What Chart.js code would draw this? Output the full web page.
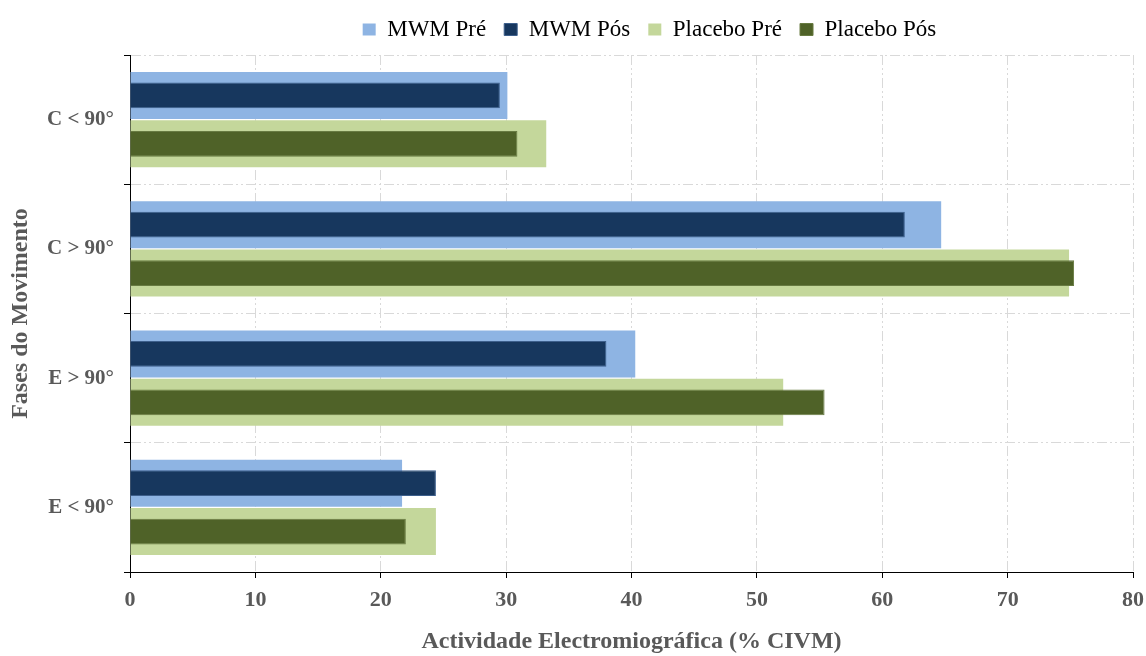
<!DOCTYPE html>
<html>
<head>
<meta charset="utf-8">
<script src="https://cdn.jsdelivr.net/npm/chart.js@4.4.0/dist/chart.umd.min.js"></script>
<style>
  html, body { margin: 0; padding: 0; background: #fff; }
</style>
</head>
<body>
<canvas id="grafico" width="1146" height="656"></canvas>
<script>
// fases do movimento (de cima para baixo)
const fases = ['C < 90°', 'C > 90°', 'E > 90°', 'E < 90°'];

// actividade electromiográfica (% CIVM)
const mwmPre = [30.1, 64.7, 40.3, 21.7];
const mwmPos = [29.5, 61.8, 38.0, 24.4];
const placeboPre = [33.2, 74.9, 52.1, 24.4];
const placeboPos = [30.9, 75.3, 55.4, 22.0];

const ticksX = [0, 10, 20, 30, 40, 50, 60, 70, 80];

const cinza = '#595959';
const grelha = '#d9d9d9';
const tracejado = [10, 3, 2, 3, 2, 3];

Chart.defaults.font.family = "'Liberation Serif', 'Times New Roman', serif";
Chart.defaults.color = cinza;

// a legenda do original fica um pouco à direita do centro da área
const deslocaLegenda = {
    id: 'deslocaLegenda',
    afterLayout(chart) {
        chart.legend.left += 18;
        chart.legend.right += 18;
    }
};

// Pré e Pós do mesmo grupo partilham a mesma faixa (stack), sobrepostas
new Chart(document.getElementById('grafico'), {
    type: 'bar',
    data: {
        labels: fases,
        datasets: [
            {
                label: 'MWM Pré',
                data: mwmPre,
                stack: 'mwm',
                backgroundColor: '#8EB4E3',
                order: 2,
                barPercentage: 0.97,
                categoryPercentage: 0.75
            },
            {
                label: 'MWM Pós',
                data: mwmPos,
                stack: 'mwm',
                backgroundColor: '#17375E',
                borderColor: '#3D5F8C',
                borderWidth: 1,
                order: 1,
                barPercentage: 0.53,
                categoryPercentage: 0.75
            },
            {
                label: 'Placebo Pré',
                data: placeboPre,
                stack: 'placebo',
                backgroundColor: '#C4D79B',
                order: 2,
                barPercentage: 0.97,
                categoryPercentage: 0.75
            },
            {
                label: 'Placebo Pós',
                data: placeboPos,
                stack: 'placebo',
                backgroundColor: '#4F6228',
                borderColor: '#687B42',
                borderWidth: 1,
                order: 1,
                barPercentage: 0.53,
                categoryPercentage: 0.75
            }
        ]
    },
    plugins: [deslocaLegenda],
    options: {
        indexAxis: 'y',
        responsive: false,
        animation: false,
        layout: { padding: { top: 0, right: 13, bottom: 0, left: 0 } },
        plugins: {
            legend: {
                position: 'top',
                fullSize: false,
                labels: {
                    color: '#000',
                    font: { size: 23 },
                    boxWidth: 13,
                    boxHeight: 12,
                    padding: 18,
                    sort: (a, b) => a.datasetIndex - b.datasetIndex
                }
            },
            tooltip: { enabled: false }
        },
        scales: {
            x: {
                type: 'linear',
                position: 'bottom',
                stacked: false,
                min: 0,
                max: 80,
                afterBuildTicks: axis => { axis.ticks = ticksX.map(v => ({ value: v })); },
                ticks: { font: { size: 22, weight: 'bold' }, padding: 9 },
                grid: { color: grelha, tickColor: '#000', tickLength: 6 },
                border: { color: '#000', dash: tracejado },
                title: {
                    display: true,
                    text: 'Actividade Electromiográfica (% CIVM)',
                    font: { size: 24, weight: 'bold' },
                    padding: { top: 10, bottom: 0 }
                },
                afterFit: axis => {
                    axis.height = 84;
                    axis.paddingRight = 0;
                }
            },
            // espaço entre a legenda e a área do gráfico
            topo: {
                type: 'linear',
                position: 'top',
                grid: { display: false },
                ticks: { display: false },
                border: { display: false },
                afterFit: axis => { axis.height = 4; }
            },
            y: {
                type: 'category',
                offset: true,
                ticks: { font: { size: 21, weight: 'bold' }, padding: 10 },
                grid: { offset: true, color: grelha, tickColor: '#000', tickLength: 6 },
                border: { color: '#000', dash: tracejado },
                title: {
                    display: true,
                    text: 'Fases do Movimento',
                    font: { size: 24, weight: 'bold' },
                    padding: { top: 6, bottom: 0 }
                },
                afterFit: axis => { axis.width = 130; }
            }
        }
    }
});
</script>
</body>
</html>
